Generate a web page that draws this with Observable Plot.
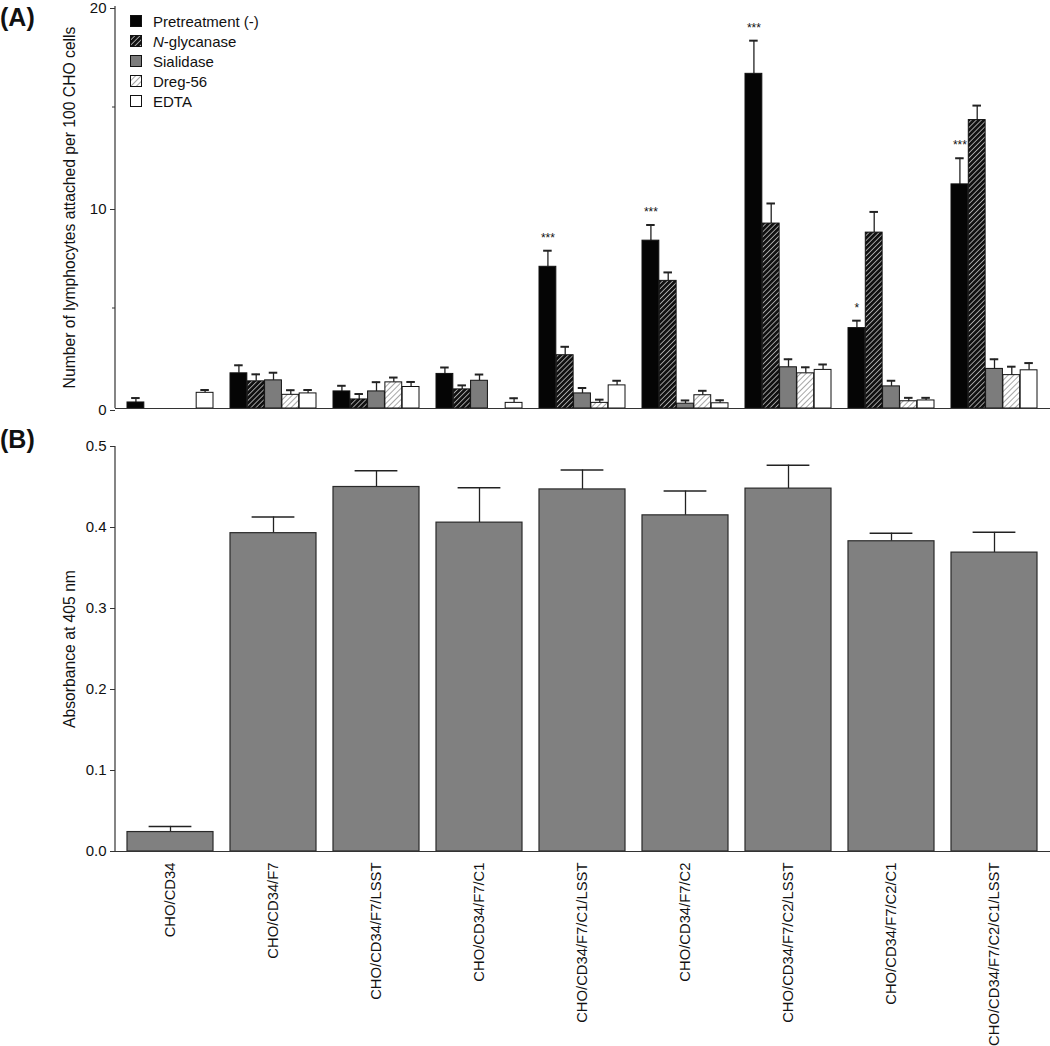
<!DOCTYPE html>
<html><head><meta charset="utf-8">
<script src="https://cdn.jsdelivr.net/npm/d3@7"></script>
<script src="https://cdn.jsdelivr.net/npm/@observablehq/plot@0.6"></script>
<style>
body{margin:0;background:#fff;font-family:"Liberation Sans",Arial,sans-serif;}
#wrap{position:relative;width:1050px;height:1046px;overflow:hidden;}
.panel{position:absolute;left:0;}
.tag{position:absolute;left:0;font-weight:bold;font-size:25px;color:#111;}
#legend{position:absolute;left:130px;top:11px;font-size:15px;color:#111;}
#legend div{height:20px;display:flex;align-items:center;}
#legend svg{margin-right:11px;}
</style></head>
<body><div id="wrap">
<div class="tag" style="top:3px">(A)</div>
<div class="tag" style="top:425px">(B)</div>
<div class="panel" id="pa" style="top:-9px"></div>
<div class="panel" id="pb" style="top:425px"></div>
<div id="legend"></div>
</div>
<script>
const categories = ["CHO/CD34","CHO/CD34/F7","CHO/CD34/F7/LSST","CHO/CD34/F7/C1","CHO/CD34/F7/C1/LSST","CHO/CD34/F7/C2","CHO/CD34/F7/C2/LSST","CHO/CD34/F7/C2/C1","CHO/CD34/F7/C2/C1/LSST"];
const treatments = ["Pretreatment (-)","N-glycanase","Sialidase","Dreg-56","EDTA"];
const pretreatment = [0.3,1.75,0.85,1.72,7.05,8.35,16.65,4.0,11.15];
const pretreatmentErr = [0.22,0.4,0.28,0.32,0.8,0.78,1.65,0.37,1.3];
const nGlycanase = [0,1.35,0.45,0.95,2.65,6.35,9.2,8.75,14.35];
const nGlycanaseErr = [0,0.35,0.27,0.2,0.42,0.42,1.0,1.03,0.72];
const sialidase = [0,1.4,0.85,1.38,0.75,0.24,2.05,1.1,1.97];
const sialidaseErr = [0,0.38,0.46,0.31,0.27,0.16,0.4,0.28,0.48];
const dreg56 = [0,0.68,1.3,0,0.28,0.66,1.75,0.36,1.66];
const dreg56Err = [0,0.23,0.24,0,0.16,0.22,0.3,0.17,0.42];
const edta = [0.78,0.75,1.07,0.28,1.15,0.26,1.92,0.4,1.9];
const edtaErr = [0.14,0.17,0.25,0.23,0.23,0.15,0.27,0.13,0.36];
const significance = ["","","","","***","***","***","*","***"];
const absorbance = [0.024,0.393,0.450,0.406,0.447,0.415,0.448,0.383,0.369];
const absorbanceErr = [0.007,0.020,0.020,0.043,0.024,0.030,0.029,0.010,0.025];
const yTicksA = [0,10,20];
const yMinorA = [5,15];
const yTicksB = [0,0.1,0.2,0.3,0.4,0.5];

const seriesVals = [pretreatment,nGlycanase,sialidase,dreg56,edta];
const seriesErrs = [pretreatmentErr,nGlycanaseErr,sialidaseErr,dreg56Err,edtaErr];
const fills = ["#050505","url(#hatchDark)","#7c7c7c","url(#hatchLight)","#ffffff"];

const W = 1050, ML = 115, MR = 0, PI = 0.165, PO = 0.097;
const xs = Plot.scale({x:{type:"band",domain:categories,range:[ML,W-MR],paddingInner:PI,paddingOuter:PO}});
const bw = xs.bandwidth, sw = bw/5;
const FONT = "Liberation Sans, Arial, sans-serif";
const NS = "http://www.w3.org/2000/svg";

function axisLine(y0,y1){
  return (index, scales, values, dims) => {
    const l = document.createElementNS(NS,"line");
    l.setAttribute("x1",dims.marginLeft); l.setAttribute("x2",dims.marginLeft);
    l.setAttribute("y1",scales.y(y0)); l.setAttribute("y2",scales.y(y1));
    l.setAttribute("stroke","#333"); l.setAttribute("stroke-width","1.2");
    return l;
  };
}

// Panel A
const marksA = [];
treatments.forEach((t,i) => {
  const data = categories.map((c,k) => ({cat:c, v:seriesVals[i][k], e:seriesErrs[i][k]})).filter(d => d.v > 0);
  marksA.push(Plot.ruleX(data.filter(d=>d.e>0), {x:"cat", y1:"v", y2:d=>d.v+d.e, dx:(i-2)*sw, stroke:"#222", strokeWidth:1.3}));
  marksA.push(Plot.tickY(data.filter(d=>d.e>0), {x:"cat", y:d=>d.v+d.e, dx:(i-2)*sw, insetLeft:(bw-9)/2, insetRight:(bw-9)/2, stroke:"#222", strokeWidth:2}));
  marksA.push(Plot.barY(data, {x:"cat", y:"v", fill:fills[i], stroke:"#111", strokeWidth:1, insetLeft:i*sw, insetRight:(4-i)*sw}));
});
const starData = categories.map((c,k)=>({cat:c, s:significance[k], y:pretreatment[k]+pretreatmentErr[k]})).filter(d=>d.s);
marksA.push(Plot.text(starData, {x:"cat", y:"y", text:"s", dx:-2*sw, dy:-13, fontSize:12, fill:"#111"}));
marksA.push(Plot.ruleY([0], {stroke:"#333", strokeWidth:1.2}));
marksA.push(axisLine(0,20));
marksA.push(Plot.axisY({ticks:yTicksA, tickSize:5, tickPadding:4, fontSize:15, dy:2, label:null, stroke:"#333", fill:"#111"}));
marksA.push(Plot.axisY({ticks:yMinorA, tickSize:3, tickFormat:()=>"", label:null, stroke:"#333"}));
marksA.push(Plot.text(["Number of lymphocytes attached per 100 CHO cells"], {frameAnchor:"left", textAnchor:"middle", rotate:-90, dx:-46, fontSize:15.7, fill:"#111"}));

const svgA = Plot.plot({
  width:W, height:426, marginLeft:ML, marginRight:MR, marginTop:15, marginBottom:9,
  style:{fontFamily:FONT, overflow:"visible", background:"transparent"},
  x:{type:"band", domain:categories, paddingInner:PI, paddingOuter:PO, axis:null},
  y:{domain:[0,20], axis:null},
  marks:marksA
});
svgA.insertAdjacentHTML("afterbegin",
 `<defs>
  <pattern id="hatchDark" patternUnits="userSpaceOnUse" width="3.6" height="3.6" patternTransform="rotate(45)">
    <rect width="3.6" height="3.6" fill="#111"/>
    <line x1="0" y1="0" x2="0" y2="3.6" stroke="#e8e8e8" stroke-width="1.3"/>
  </pattern>
  <pattern id="hatchLight" patternUnits="userSpaceOnUse" width="4" height="4" patternTransform="rotate(45)">
    <rect width="4" height="4" fill="#fff"/>
    <line x1="0" y1="0" x2="0" y2="4" stroke="#777" stroke-width="1.3"/>
  </pattern>
 </defs>`);
document.getElementById("pa").appendChild(svgA);

// Panel B
const dataB = categories.map((c,k)=>({cat:c, v:absorbance[k], e:absorbanceErr[k]}));
const svgB = Plot.plot({
  width:W, height:621, marginLeft:ML, marginRight:MR, marginTop:21, marginBottom:195,
  style:{fontFamily:FONT, overflow:"visible", background:"transparent"},
  x:{type:"band", domain:categories, paddingInner:PI, paddingOuter:PO},
  y:{domain:[0,0.5]},
  marks:[
    Plot.ruleX(dataB, {x:"cat", y1:"v", y2:d=>d.v+d.e, stroke:"#222", strokeWidth:1.3}),
    Plot.tickY(dataB, {x:"cat", y:d=>d.v+d.e, insetLeft:bw/4, insetRight:bw/4, stroke:"#222", strokeWidth:1.5}),
    Plot.barY(dataB, {x:"cat", y:"v", fill:"#808080", stroke:"#2a2a2a", strokeWidth:1.2}),
    Plot.ruleY([0], {stroke:"#333", strokeWidth:1.2}),
    axisLine(0,0.5),
    Plot.axisY({ticks:yTicksB, tickFormat:d3.format(".1f"), tickSize:5, tickPadding:4, fontSize:15, label:null, stroke:"#333", fill:"#111"}),
    Plot.axisX({tickRotate:-90, tickSize:0, tickPadding:11, fontSize:14.8, label:null, fill:"#111"}),
    Plot.text(["Absorbance at 405 nm"], {frameAnchor:"left", textAnchor:"middle", rotate:-90, dx:-46, fontSize:15.7, fill:"#111"})
  ]
});
document.getElementById("pb").appendChild(svgB);

// Legend
const leg = document.getElementById("legend");
treatments.forEach((t,i) => {
  const row = document.createElement("div");
  const label = i===1 ? '<i>N</i>-glycanase' : t;
  row.innerHTML = `<svg width="12" height="12"><rect x="0.5" y="0.5" width="11" height="11" fill="${fills[i]}" stroke="#111" stroke-width="1"/></svg><span>${label}</span>`;
  leg.appendChild(row);
});
</script>
</body></html>
